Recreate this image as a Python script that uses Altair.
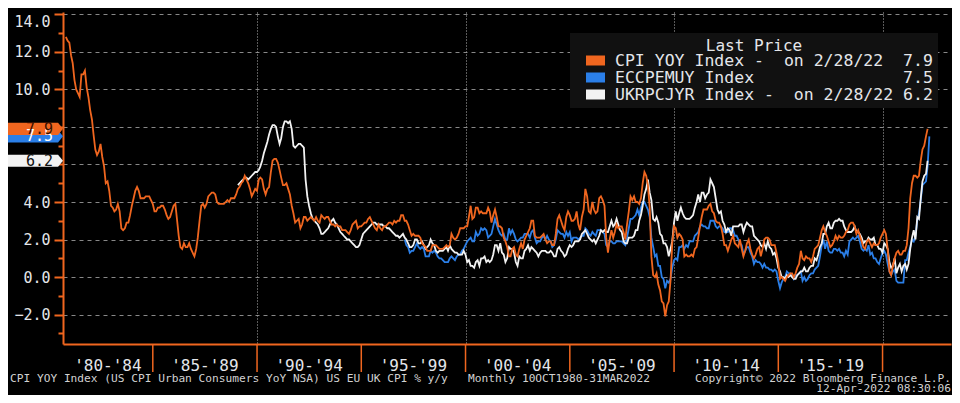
import altair as alt
import pandas as pd

# ---------------- data ----------------
# US CPI YoY (CPI YOY Index), monthly, Oct 1980 .. Feb 2022
us_cpi = [
    12.8, 12.6, 12.5,
    11.8, 11.4, 10.5, 10.0, 9.8, 9.6, 10.8, 10.8, 11.0, 10.1, 9.6, 8.9,
    8.4, 7.6, 6.8, 6.5, 6.7, 7.1, 6.4, 5.9, 5.0, 5.1, 4.6, 3.8,
    3.7, 3.5, 3.6, 3.9, 3.5, 2.6, 2.5, 2.6, 2.9, 2.9, 3.3, 3.8,
    4.2, 4.6, 4.8, 4.6, 4.2, 4.2, 4.2, 4.3, 4.3, 4.3, 4.1, 3.9,
    3.5, 3.5, 3.7, 3.7, 3.8, 3.8, 3.6, 3.3, 3.1, 3.2, 3.5, 3.8,
    3.9, 3.1, 2.2, 1.6, 1.5, 1.8, 1.6, 1.6, 1.8, 1.5, 1.3, 1.1,
    1.5, 2.1, 3.0, 3.8, 3.9, 3.7, 3.9, 4.3, 4.4, 4.5, 4.5, 4.4,
    4.0, 3.9, 3.9, 3.9, 3.9, 4.0, 4.1, 4.0, 4.2, 4.2, 4.2, 4.4,
    4.7, 4.8, 5.0, 5.1, 5.4, 5.2, 5.0, 4.7, 4.3, 4.5, 4.7, 4.6,
    5.2, 5.3, 5.2, 4.7, 4.4, 4.7, 4.8, 5.6, 6.2, 6.3, 6.3, 6.1,
    5.7, 5.3, 4.9, 4.9, 5.0, 4.7, 4.4, 3.8, 3.4, 2.9, 3.0, 3.1,
    2.6, 2.8, 3.2, 3.2, 3.0, 3.1, 3.2, 3.1, 3.0, 3.2, 3.0, 2.9,
    3.3, 3.2, 3.1, 3.2, 3.2, 3.0, 2.8, 2.8, 2.7, 2.8, 2.7, 2.7,
    2.5, 2.5, 2.5, 2.4, 2.3, 2.5, 2.8, 2.9, 3.0, 2.6, 2.7, 2.7,
    2.8, 2.9, 2.9, 3.1, 3.2, 3.0, 2.8, 2.6, 2.5, 2.8, 2.6, 2.5,
    2.7, 2.7, 2.8, 2.9, 2.9, 2.8, 3.0, 2.9, 3.0, 3.0, 3.3, 3.3,
    3.0, 3.0, 2.8, 2.5, 2.2, 2.3, 2.2, 2.2, 2.2, 2.1, 1.8, 1.7,
    1.6, 1.4, 1.4, 1.4, 1.7, 1.7, 1.7, 1.6, 1.5, 1.5, 1.5, 1.6,
    1.7, 1.6, 1.7, 2.3, 2.1, 2.0, 2.1, 2.3, 2.6, 2.6, 2.6, 2.7,
    2.7, 3.2, 3.8, 3.1, 3.2, 3.7, 3.7, 3.4, 3.5, 3.4, 3.4, 3.4,
    3.7, 3.5, 2.9, 3.3, 3.6, 3.2, 2.7, 2.7, 2.6, 2.1, 1.9, 1.6,
    1.1, 1.1, 1.5, 1.6, 1.2, 1.1, 1.5, 1.8, 1.5, 2.0, 2.2, 2.4,
    2.6, 3.0, 3.0, 2.2, 2.1, 2.1, 2.1, 2.2, 2.3, 2.0, 1.8, 1.9,
    1.9, 1.7, 1.7, 2.3, 3.1, 3.3, 3.0, 2.7, 2.5, 3.2, 3.5, 3.3,
    3.0, 3.0, 3.1, 3.5, 2.8, 2.5, 3.2, 3.6, 4.7, 4.3, 3.5, 3.4,
    4.0, 3.6, 3.4, 3.5, 4.2, 4.3, 4.1, 3.8, 2.1, 1.3, 2.0, 2.5,
    2.1, 2.4, 2.8, 2.6, 2.7, 2.7, 2.4, 2.0, 2.8, 3.5, 4.3, 4.1,
    4.3, 4.0, 4.0, 3.9, 4.2, 5.0, 5.6, 5.4, 4.9, 3.7, 1.1, 0.1,
    0.0, 0.2, -0.4, -0.7, -1.3, -1.4, -2.1, -1.5, -1.3, -0.2, 1.8, 2.7,
    2.6, 2.1, 2.3, 2.2, 2.0, 1.1, 1.2, 1.1, 1.1, 1.2, 1.1, 1.5,
    1.6, 2.1, 2.7, 3.2, 3.6, 3.6, 3.6, 3.8, 3.9, 3.5, 3.4, 3.0,
    2.9, 2.9, 2.7, 2.3, 1.7, 1.7, 1.4, 1.7, 2.0, 2.2, 1.8, 1.7,
    1.6, 2.0, 1.5, 1.1, 1.4, 1.8, 2.0, 1.5, 1.2, 1.0, 1.2, 1.5,
    1.6, 1.1, 1.5, 2.0, 2.1, 2.1, 2.0, 1.7, 1.7, 1.7, 1.3, 0.8,
    -0.1, 0.0, -0.1, -0.2, 0.0, 0.1, 0.2, 0.2, 0.0, 0.2, 0.5, 0.7,
    1.4, 1.0, 0.9, 1.1, 1.0, 1.0, 0.8, 1.1, 1.5, 1.6, 1.7, 2.1,
    2.5, 2.7, 2.4, 2.2, 1.9, 1.6, 1.7, 1.9, 2.2, 2.0, 2.2, 2.1,
    2.1, 2.2, 2.4, 2.5, 2.8, 2.9, 2.9, 2.7, 2.3, 2.5, 2.2, 1.9,
    1.6, 1.5, 1.9, 2.0, 1.8, 1.6, 1.8, 1.7, 1.7, 1.8, 2.1, 2.3,
    2.5, 2.3, 1.5, 0.3, 0.1, 0.6, 1.0, 1.3, 1.4, 1.2, 1.2, 1.4,
    1.4, 1.7, 2.6, 4.2, 5.0, 5.4, 5.4, 5.3, 5.4, 6.2, 6.8, 7.0,
    7.5, 7.9,
]
us_start = "1980-10-01"

# Euro area HICP YoY (ECCPEMUY Index), monthly, Jan 1997 .. Mar 2022
eu_hicp = [
    2.0, 1.7, 1.6, 1.3, 1.4, 1.4, 1.6, 1.8, 1.6, 1.5, 1.6, 1.5,
    1.1, 1.1, 1.1, 1.4, 1.3, 1.4, 1.3, 1.1, 1.0, 1.0, 0.9, 0.8,
    0.8, 0.8, 1.0, 1.1, 1.0, 0.9, 1.1, 1.2, 1.2, 1.4, 1.5, 1.7,
    1.9, 2.0, 2.1, 1.9, 1.9, 2.4, 2.2, 2.3, 2.6, 2.5, 2.6, 2.5,
    2.1, 2.2, 2.3, 2.7, 3.1, 2.8, 2.5, 2.3, 2.2, 2.3, 2.0, 2.0,
    2.6, 2.3, 2.5, 2.3, 2.0, 1.9, 2.0, 2.1, 2.1, 2.3, 2.3, 2.3,
    2.1, 2.4, 2.5, 2.1, 1.8, 1.9, 1.9, 2.1, 2.2, 2.0, 2.2, 2.0,
    1.9, 1.6, 1.7, 2.0, 2.5, 2.4, 2.3, 2.3, 2.1, 2.4, 2.2, 2.4,
    1.9, 2.1, 2.1, 2.1, 2.0, 2.1, 2.2, 2.2, 2.6, 2.5, 2.3, 2.2,
    2.4, 2.3, 2.2, 2.5, 2.5, 2.5, 2.4, 2.3, 1.7, 1.6, 1.9, 1.9,
    1.8, 1.8, 1.9, 1.9, 1.9, 1.9, 1.8, 1.7, 2.1, 2.6, 3.1, 3.1,
    3.2, 3.3, 3.6, 3.3, 3.7, 4.0, 4.0, 3.8, 3.6, 3.2, 2.1, 1.6,
    1.1, 1.2, 0.6, 0.6, 0.0, -0.1, -0.6, -0.2, -0.3, -0.1, 0.5, 0.9,
    1.0, 0.9, 1.6, 1.6, 1.7, 1.5, 1.7, 1.6, 1.9, 1.9, 1.9, 2.2,
    2.3, 2.4, 2.7, 2.8, 2.7, 2.7, 2.6, 2.6, 3.0, 3.0, 3.0, 2.7,
    2.6, 2.7, 2.7, 2.6, 2.4, 2.4, 2.4, 2.6, 2.6, 2.5, 2.2, 2.2,
    2.0, 1.8, 1.7, 1.2, 1.4, 1.6, 1.6, 1.3, 1.1, 0.7, 0.9, 0.8,
    0.8, 0.7, 0.5, 0.7, 0.5, 0.5, 0.4, 0.4, 0.3, 0.4, 0.3, -0.2,
    -0.6, -0.3, -0.1, 0.0, 0.3, 0.2, 0.2, 0.1, -0.1, 0.1, 0.1, 0.2,
    0.3, -0.2, 0.0, -0.2, -0.1, 0.1, 0.2, 0.2, 0.4, 0.5, 0.6, 1.1,
    1.7, 2.0, 1.5, 1.9, 1.4, 1.3, 1.3, 1.5, 1.5, 1.4, 1.5, 1.3,
    1.3, 1.1, 1.4, 1.2, 1.9, 2.0, 2.1, 2.0, 2.1, 2.2, 1.9, 1.5,
    1.4, 1.5, 1.4, 1.7, 1.2, 1.3, 1.0, 1.0, 0.8, 0.7, 1.0, 1.3,
    1.4, 1.2, 0.7, 0.3, 0.1, 0.3, 0.4, -0.2, -0.3, -0.3, -0.3, -0.3,
    0.9, 0.9, 1.3, 1.6, 2.0, 1.9, 2.2, 3.0, 3.4, 4.1, 4.9, 5.0,
    5.1, 5.9, 7.5,
]
eu_start = "1997-01-01"

# UK CPI YoY (UKRPCJYR Index), monthly, Jan 1989 .. Feb 2022
uk_cpi = [
    4.9, 5.0, 5.1, 5.2, 5.3, 5.3, 5.2, 5.3, 5.4, 5.5, 5.6, 5.6,
    5.7, 5.9, 6.2, 6.6, 6.9, 7.2, 7.6, 7.9, 8.1, 8.1, 8.0, 7.5,
    7.1, 7.4, 8.0, 8.3, 8.3, 8.2, 8.3, 7.9, 7.0, 6.9, 7.0, 7.1,
    7.1, 7.0, 6.9, 5.2, 4.3, 3.8, 3.4, 3.1, 3.0, 2.9, 2.8, 2.6,
    2.3, 2.3, 2.4, 2.5, 2.6, 2.8, 3.0, 3.1, 2.9, 2.8, 2.6, 2.4,
    2.3, 2.2, 2.1, 2.0, 2.0, 1.9, 1.8, 1.7, 1.6, 1.6, 1.7, 2.0,
    2.3, 2.4, 2.5, 2.6, 2.7, 2.8, 2.9, 2.9, 2.8, 2.8, 2.8, 2.8,
    2.7, 2.7, 2.6, 2.6, 2.5, 2.4, 2.3, 2.2, 2.2, 2.1, 2.2, 2.3,
    2.1, 2.0, 1.8, 1.6, 1.6, 1.7, 2.0, 2.0, 1.8, 1.8, 1.9, 1.7,
    1.5, 1.6, 1.7, 2.0, 1.8, 1.7, 1.4, 1.3, 1.4, 1.4, 1.4, 1.5,
    1.6, 1.4, 1.7, 1.5, 1.4, 1.3, 1.3, 1.2, 1.2, 1.2, 1.4, 1.2,
    0.8, 0.9, 0.6, 0.6, 0.5, 0.8, 0.9, 0.6, 1.0, 1.0, 1.1, 0.8,
    0.9, 0.8, 0.9, 1.2, 1.7, 1.7, 1.4, 1.8, 1.3, 1.2, 0.8, 1.0,
    1.6, 1.5, 1.5, 1.3, 0.8, 0.6, 1.1, 1.0, 1.0, 1.4, 1.5, 1.7,
    1.4, 1.6, 1.5, 1.4, 1.3, 1.1, 1.3, 1.4, 1.4, 1.4, 1.3, 1.3,
    1.4, 1.3, 1.1, 1.1, 1.5, 1.6, 1.4, 1.3, 1.1, 1.2, 1.5, 1.7,
    1.6, 1.7, 1.9, 1.9, 1.9, 2.0, 2.3, 2.4, 2.5, 2.3, 2.1, 2.0,
    1.9, 2.0, 1.8, 2.0, 2.2, 2.5, 2.4, 2.5, 2.4, 2.4, 2.7, 3.0,
    2.7, 2.8, 3.1, 2.8, 2.5, 2.4, 1.9, 1.8, 1.8, 2.1, 2.1, 2.1,
    2.2, 2.5, 2.5, 3.0, 3.3, 3.8, 4.4, 4.7, 5.2, 4.5, 4.1, 3.1,
    3.0, 3.2, 2.9, 2.3, 2.2, 1.8, 1.8, 1.6, 1.1, 1.5, 1.9, 2.9,
    3.5, 3.0, 3.4, 3.7, 3.4, 3.2, 3.1, 3.1, 3.1, 3.2, 3.3, 3.7,
    4.0, 4.4, 4.0, 4.5, 4.5, 4.2, 4.4, 4.5, 5.2, 5.0, 4.8, 4.2,
    3.6, 3.4, 3.5, 3.0, 2.8, 2.4, 2.6, 2.5, 2.2, 2.7, 2.7, 2.7,
    2.7, 2.8, 2.8, 2.4, 2.7, 2.9, 2.8, 2.7, 2.7, 2.2, 2.1, 2.0,
    1.9, 1.7, 1.6, 1.8, 1.5, 1.9, 1.6, 1.5, 1.2, 1.3, 1.0, 0.5,
    0.3, 0.0, 0.0, -0.1, 0.1, 0.0, 0.1, 0.0, -0.1, -0.1, 0.1, 0.2,
    0.3, 0.3, 0.5, 0.3, 0.3, 0.5, 0.6, 0.6, 1.0, 0.9, 1.2, 1.6,
    1.8, 2.3, 2.3, 2.7, 2.9, 2.6, 2.6, 2.9, 3.0, 3.0, 3.1, 3.0,
    3.0, 2.7, 2.5, 2.4, 2.4, 2.4, 2.5, 2.7, 2.4, 2.4, 2.3, 2.1,
    1.8, 1.9, 1.9, 2.1, 2.0, 2.0, 2.1, 1.7, 1.7, 1.5, 1.5, 1.3,
    1.8, 1.7, 1.5, 0.8, 0.5, 0.6, 1.0, 0.2, 0.5, 0.7, 0.3, 0.6,
    0.7, 0.4, 0.7, 1.5, 2.1, 2.5, 2.0, 3.2, 3.1, 4.2, 5.1, 5.4,
    5.5, 6.2,
]
uk_start = "1989-01-01"

series_codes = ["CPI YOY Index", "ECCPEMUY Index", "UKRPCJYR Index"]
series_notes = ["on 2/28/22", "", "on 2/28/22"]
last_price = [7.9, 7.5, 6.2]

period_labels = ["'80-'84", "'85-'89", "'90-'94", "'95-'99", "'00-'04", "'05-'09", "'10-'14", "'15-'19"]
period_starts = [1980, 1985, 1990, 1995, 2000, 2005, 2010, 2015]
separator_years = [1985, 1990, 1995, 2000, 2005, 2010, 2015, 2020]
decade_years = [1990, 2000, 2010, 2020]
y_ticks = list(range(-3, 15))
y_labels_hidden = [6, 8]   # covered by the last-price tags

NB = "\u00a0"
footer_left = ("CPI YOY Index (US CPI Urban Consumers YoY NSA) US EU UK CPI % y/y"
               + NB * 3 + "Monthly 10OCT1980-31MAR2022")
footer_right = "Copyright\u00a9 2022 Bloomberg Finance L.P."
footer_stamp = "12-Apr-2022 08:30:06"

# ---------------- styles ----------------
ORANGE = "#f0661f"
BLUE = "#2b7fe8"
WHITE = "#f2f2f2"
series_colors = [ORANGE, BLUE, WHITE]
tag_text_colors = ["#3a1000", "#ffffff", "#111111"]
TXT = "#e4e6ea"
MONO = "DejaVu Sans Mono"
PLOT_W, PLOT_H = 888, 332

# ---------------- build tables ----------------
def legend_label(code, note, value):
    name = code + (" -  " + note if note else "")
    return (name.ljust(29) + f"{value:.1f}").replace(" ", NB)

labels = [legend_label(c, n, v) for c, n, v in zip(series_codes, series_notes, last_price)]

def month_ends(start, n):
    d = pd.date_range(start, periods=n, freq="MS") + pd.offsets.MonthEnd(0)
    return d.strftime("%Y-%m-%d")

frames = []
for lab, vals, start in zip(labels, [us_cpi, eu_hicp, uk_cpi], [us_start, eu_start, uk_start]):
    frames.append(pd.DataFrame({"date": month_ends(start, len(vals)), "value": vals, "series": lab}))
lines_df = pd.concat(frames, ignore_index=True)

X_DOMAIN = [alt.DateTime(year=1980, month=9, date=11, utc=True),
            alt.DateTime(year=2023, month=4, date=14, utc=True)]
X_SCALE = alt.Scale(type="utc", domain=X_DOMAIN)
Y_SCALE = alt.Scale(domain=[-3.57, 14.13], nice=False, zero=False)

even = "datum.value % 2 === 0"
hidden = " && ".join(f"datum.value !== {v}" for v in y_labels_hidden)
X_AXIS = alt.Axis(
    values=[alt.DateTime(year=y, month=1, date=1, utc=True) for y in decade_years],
    labels=False, ticks=False, title=None, zindex=0,
    domainColor=ORANGE, domainWidth=2,
    grid=True, gridColor="#c8c8c8", gridDash=[1, 2], gridWidth=1, gridOpacity=0.9,
)
Y_AXIS = alt.Axis(
    values=y_ticks, title=None, zindex=0,
    labelExpr=f"({even}) && {hidden} ? format(datum.value, '.1f') : ''",
    labelFont=MONO, labelFontSize=15, labelColor=TXT, labelPadding=4,
    labelBaseline={"condition": {"test": f"datum.value === {max(y_ticks)}", "value": "top"},
                   "value": "middle"},
    domainColor=ORANGE, domainWidth=2,
    tickColor=ORANGE, tickWidth=2,
    tickSize={"condition": {"test": even, "value": 9}, "value": 5},
    grid=True, gridColor="#a0a0a0", gridDash=[4, 4], gridWidth=1,
    gridOpacity={"condition": {"test": even, "value": 0.85}, "value": 0},
)

color = alt.Color(
    "series:N",
    scale=alt.Scale(domain=labels, range=series_colors),
    legend=alt.Legend(
        title="Last Price", orient="none", legendX=507, legendY=21, direction="vertical",
        fillColor="#111111", padding=5,
        titleFont=MONO, titleFontSize=16, titleFontWeight="normal", titleColor=TXT,
        titleAnchor="middle", titlePadding=0,
        labelFont=MONO, labelFontSize=16.5, labelColor=TXT, labelLimit=600, labelOffset=5,
        symbolType="M-1,0H1", symbolSize=361, symbolStrokeWidth=10, symbolOffset=6,
        clipHeight=13, rowPadding=0,
    ),
)

def line_layer(i):
    return alt.Chart(lines_df).transform_filter(
        alt.datum.series == labels[i]
    ).mark_line(strokeWidth=1.8, interpolate="linear").encode(
        x=alt.X("date:T", scale=X_SCALE, axis=X_AXIS),
        y=alt.Y("value:Q", scale=Y_SCALE, axis=Y_AXIS),
        color=color,
    )

# separators between 5-year periods
sep_df = pd.DataFrame({"date": [f"{y}-01-01" for y in separator_years]})
separators = alt.Chart(sep_df).mark_rule(color=ORANGE, strokeWidth=1.5).encode(
    x=alt.X("date:T", scale=X_SCALE, axis=X_AXIS),
    y=alt.value(PLOT_H), y2=alt.value(PLOT_H + 28),
)

# period labels centred in each period
dom_start = pd.Timestamp("1980-09-11")
mids = []
for s in period_starts:
    a = max(pd.Timestamp(f"{s}-01-01"), dom_start)
    b = pd.Timestamp(f"{s + 5}-01-01")
    mids.append((a + (b - a) / 2).strftime("%Y-%m-%d"))
per_df = pd.DataFrame({"mid": mids, "label": period_labels})
period_text = alt.Chart(per_df).mark_text(
    font=MONO, fontSize=16, color=TXT, baseline="middle", align="center"
).encode(
    x=alt.X("mid:T", scale=X_SCALE, axis=X_AXIS),
    y=alt.value(PLOT_H + 22),
    text="label:N",
)

# last-price tags on the y axis (drawn blue, white, orange so orange is on top)
order = [1, 2, 0]
tag_df = pd.DataFrame({
    "value": [last_price[i] for i in order],
    "fillc": [series_colors[i] for i in order],
    "textc": [tag_text_colors[i] for i in order],
})
TAG_PATH = "M-1,-0.22L0.82,-0.22L1,0L0.82,0.22L-1,0.22Z"
tags = alt.Chart(tag_df).mark_point(
    shape=TAG_PATH, size=3025, filled=True, opacity=1, strokeWidth=0
).encode(
    x=alt.value(-27.5),
    y=alt.Y("value:Q", scale=Y_SCALE, axis=Y_AXIS),
    fill=alt.Fill("fillc:N", scale=None),
)
tag_text = alt.Chart(tag_df).mark_text(
    font=MONO, fontSize=15, align="right", baseline="middle"
).encode(
    x=alt.value(-10),
    y=alt.Y("value:Q", scale=Y_SCALE, axis=Y_AXIS),
    text=alt.Text("value:Q", format=".1f"),
    fill=alt.Fill("textc:N", scale=None),
)

def footer(text, x, y, align):
    return alt.Chart(pd.DataFrame({"t": [text]})).mark_text(
        font=MONO, fontSize=11.2, color="#d2d2d2", align=align, baseline="middle"
    ).encode(x=alt.value(x), y=alt.value(y), text="t:N")

layers = [
    line_layer(1), line_layer(2), line_layer(0),
    separators, period_text, tags, tag_text,
    footer(footer_left, -53, PLOT_H + 35, "left"),
    footer(footer_right, PLOT_W, PLOT_H + 35, "right"),
    footer(footer_stamp, PLOT_W, PLOT_H + 45, "right"),
]

chart = alt.layer(*layers).properties(
    width=PLOT_W, height=PLOT_H,
    padding={"left": 55, "top": 4, "right": 1, "bottom": 51},
    autosize=alt.AutoSizeParams(type="none"),
    background="#000000",
).configure_view(strokeWidth=0)

chart.save("out.html", embed_options={"renderer": "svg", "actions": False})
